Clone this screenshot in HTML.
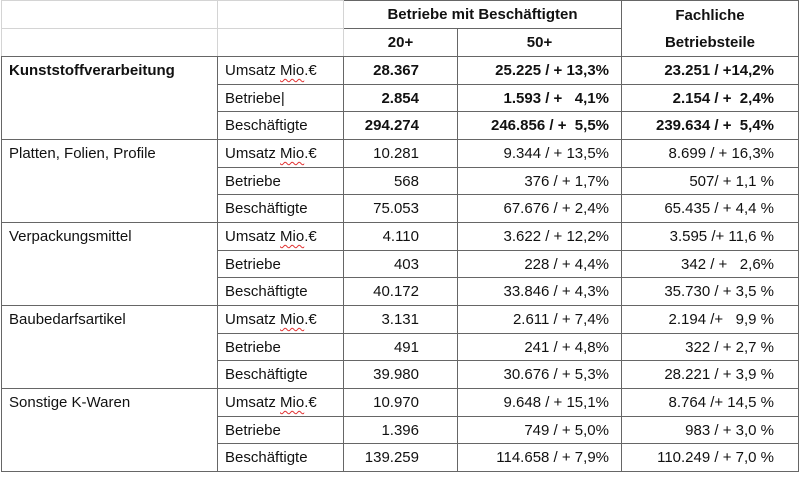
<!DOCTYPE html>
<html><head><meta charset="utf-8"><style>
html,body{margin:0;padding:0;background:#fff;width:800px;height:483px;overflow:hidden}
table{position:absolute;left:1px;top:0;border-collapse:collapse;table-layout:fixed;font-family:"Liberation Sans",sans-serif;font-size:15px;color:#111}
tr{height:28px}
tr.s{height:27px}
td{border:1px solid #666;padding:2px 0 0 0;vertical-align:top;line-height:24px;white-space:pre;overflow:hidden}
td.l{border-color:#d4d4d4}
td.c{padding-left:7px}
td.k{padding-left:7px}
td.n3{text-align:right;padding-right:38px}
td.n4{text-align:right;padding-right:12px}
td.n5{text-align:right;padding-right:24px}
.b td{font-weight:bold}
th{font-weight:bold;border:1px solid #666;padding:0;text-align:center;line-height:27px}
u{text-decoration:underline wavy #e03030;text-decoration-thickness:1px;text-underline-offset:3px}
</style></head><body>
<table>
<colgroup><col style="width:216px"><col style="width:126px"><col style="width:114px"><col style="width:164px"><col style="width:177px"></colgroup>
<tr><td class="l" style="border-top-color:#d4d4d4;border-left-color:#d4d4d4"></td><td class="l"></td><th colspan="2">Betriebe mit Beschäftigten</th><th rowspan="2" style="line-height:27px">Fachliche<br>Betriebsteile</th></tr>
<tr class="s"><td class="l" style="border-bottom-color:#666"></td><td class="l" style="border-bottom-color:#666"></td><th>20+</th><th>50+</th></tr>

<tr class="b"><td class="k" rowspan="3">Kunststoffverarbeitung</td><td class="c" style="font-weight:normal">Umsatz <u>Mio</u>.€</td><td class="n3">28.367</td><td class="n4">25.225 / + 13,3%</td><td class="n5">23.251 / +14,2%</td></tr>
<tr class="b s"><td class="c" style="font-weight:normal">Betriebe|</td><td class="n3">2.854</td><td class="n4">1.593 / +   4,1%</td><td class="n5">2.154 / +  2,4%</td></tr>
<tr class="b"><td class="c" style="font-weight:normal">Beschäftigte</td><td class="n3">294.274</td><td class="n4">246.856 / +  5,5%</td><td class="n5">239.634 / +  5,4%</td></tr>

<tr><td class="k" rowspan="3">Platten, Folien, Profile</td><td class="c">Umsatz <u>Mio</u>.€</td><td class="n3">10.281</td><td class="n4">9.344 / + 13,5%</td><td class="n5">8.699 / + 16,3%</td></tr>
<tr class="s"><td class="c">Betriebe</td><td class="n3">568</td><td class="n4">376 / + 1,7%</td><td class="n5">507/ + 1,1 %</td></tr>
<tr><td class="c">Beschäftigte</td><td class="n3">75.053</td><td class="n4">67.676 / + 2,4%</td><td class="n5">65.435 / + 4,4 %</td></tr>

<tr><td class="k" rowspan="3">Verpackungsmittel</td><td class="c">Umsatz <u>Mio</u>.€</td><td class="n3">4.110</td><td class="n4">3.622 / + 12,2%</td><td class="n5">3.595 /+ 11,6 %</td></tr>
<tr class="s"><td class="c">Betriebe</td><td class="n3">403</td><td class="n4">228 / + 4,4%</td><td class="n5">342 / +   2,6%</td></tr>
<tr><td class="c">Beschäftigte</td><td class="n3">40.172</td><td class="n4">33.846 / + 4,3%</td><td class="n5">35.730 / + 3,5 %</td></tr>

<tr><td class="k" rowspan="3">Baubedarfsartikel</td><td class="c">Umsatz <u>Mio</u>.€</td><td class="n3">3.131</td><td class="n4">2.611 / + 7,4%</td><td class="n5">2.194 /+   9,9 %</td></tr>
<tr class="s"><td class="c">Betriebe</td><td class="n3">491</td><td class="n4">241 / + 4,8%</td><td class="n5">322 / + 2,7 %</td></tr>
<tr><td class="c">Beschäftigte</td><td class="n3">39.980</td><td class="n4">30.676 / + 5,3%</td><td class="n5">28.221 / + 3,9 %</td></tr>

<tr><td class="k" rowspan="3">Sonstige K-Waren</td><td class="c">Umsatz <u>Mio</u>.€</td><td class="n3">10.970</td><td class="n4">9.648 / + 15,1%</td><td class="n5">8.764 /+ 14,5 %</td></tr>
<tr class="s"><td class="c">Betriebe</td><td class="n3">1.396</td><td class="n4">749 / + 5,0%</td><td class="n5">983 / + 3,0 %</td></tr>
<tr><td class="c">Beschäftigte</td><td class="n3">139.259</td><td class="n4">114.658 / + 7,9%</td><td class="n5">110.249 / + 7,0 %</td></tr>
</table>
</body></html>
